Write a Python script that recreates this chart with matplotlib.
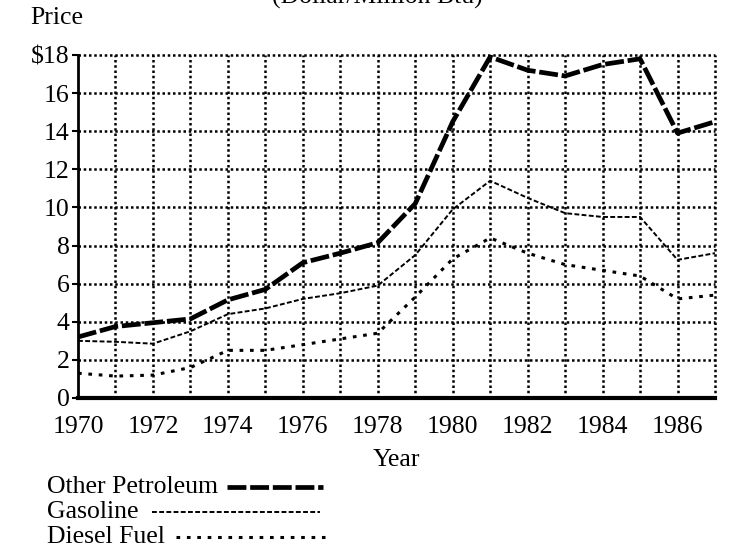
import numpy as np
import matplotlib
matplotlib.use("Agg")
import matplotlib.pyplot as plt
from matplotlib.lines import Line2D

plt.rcParams['font.family'] = ['Liberation Serif', 'DejaVu Serif']

# Data (dollars per million Btu)
years = list(range(1970, 1988))
other_petroleum = [3.2, 3.75, 3.95, 4.15, 5.15, 5.7, 7.1, 7.6, 8.15, 10.2, 14.5,
                   17.9, 17.2, 16.9, 17.5, 17.8, 13.9, 14.5]
gasoline = [3.0, 2.95, 2.85, 3.5, 4.4, 4.7, 5.2, 5.5, 5.9, 7.5, 9.9,
            11.4, 10.5, 9.7, 9.5, 9.5, 7.25, 7.6]
diesel = [1.3, 1.15, 1.2, 1.6, 2.5, 2.5, 2.8, 3.1, 3.4, 5.3, 7.3,
          8.4, 7.6, 7.0, 6.7, 6.4, 5.2, 5.4]

xticks = list(range(1970, 1987, 2))
yticks = list(range(0, 19, 2))
ylabels = ["$18" if v == 18 else str(v) for v in yticks]

fig = plt.figure(figsize=(7.32, 5.49), dpi=100)
ax = fig.add_axes([78/732, 1 - 398/549, 637/732, 343/549])

fs = 18.5

# dotted grid, every year / every $2
for y in yticks[1:]:
    ax.axhline(y, color='black', lw=1.8, ls=(0, (1, 1.1)), zorder=1, clip_on=False)
for x in years[1:]:
    ax.axvline(x, color='black', lw=1.8, ls=(0, (1, 1.1)), zorder=1, clip_on=False)

ax.plot(years, other_petroleum, color='black', lw=3.4, ls=(0, (4, 0.8)), zorder=3)
ax.plot(years, gasoline, color='black', lw=1.4, ls=(0, (2.5, 1.2)), zorder=3)
ax.plot(years, diesel, color='black', lw=2.2, ls=(0, (1.2, 2.2)), zorder=3)

ax.set_xlim(1970, 1987)
ax.set_ylim(0, 18)
ax.set_xticks(xticks)
ax.set_yticks(yticks)
ax.set_yticklabels(ylabels)
ax.tick_params(axis='both', labelsize=fs, length=4, width=1.5, direction='out')
ax.tick_params(axis='x', length=0, pad=13)
ax.tick_params(axis='y', pad=2)

for s in ['top', 'right']:
    ax.spines[s].set_visible(False)
ax.spines['left'].set_linewidth(2)
ax.spines['bottom'].set_linewidth(3)

ax.set_xlabel("Year", fontsize=fs, labelpad=8)

fig.text(30/732, 1 - 18/549, "Price", fontsize=fs, ha='left', va='center')
fig.text(377/732, 1 - 4/549, "(Dollar/Million Btu)", fontsize=fs, ha='center', va='baseline')

# legend, text then line sample
legend_rows = [
    ("Other Petroleum", 227, 323, 487, dict(lw=3.4, ls=(0, (4, 0.8)))),
    ("Gasoline", 152, 320, 512, dict(lw=1.4, ls=(0, (2.5, 1.2)))),
    ("Diesel Fuel", 176, 325, 537, dict(lw=2.2, ls=(0, (1.2, 2.2)))),
]
for label, x0, x1, yy, style in legend_rows:
    fig.text(47/732, 1 - yy/549, label, fontsize=fs, ha='left', va='center')
    fig.add_artist(Line2D([x0/732, x1/732], [1 - yy/549, 1 - yy/549],
                          color='black', transform=fig.transFigure, **style))

fig.savefig("out.png", dpi=100)
